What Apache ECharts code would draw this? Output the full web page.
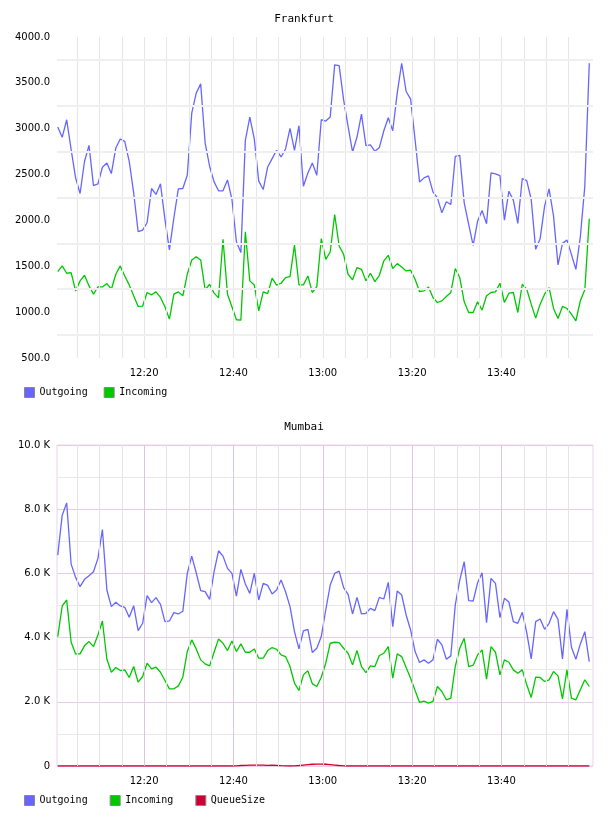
<!DOCTYPE html>
<html>
<head>
    <meta charset="utf-8" />
    <title>Frankfurt / Mumbai</title>
    <script src="https://cdn.jsdelivr.net/npm/echarts@6/dist/echarts.min.js"></script>
    <style>
        body { margin: 0; background: #fff; }
        #main { width: 608px; height: 816px; }
    </style>
</head>
<body>
<div id="main"></div>

<script type="text/javascript">
    // samples, one per minute
    var startTime = new Date(2024, 0, 1, 12, 0, 40).getTime();
    var stepMs = 60 * 1000;
    var axisMin = new Date(2024, 0, 1, 12, 0, 30).getTime();
    var axisMax = new Date(2024, 0, 1, 14, 0, 30).getTime();
    var baseTime = new Date(2024, 0, 1, 12, 0, 0).getTime();

    // minutes after 12:00
    var gridMinutes = [5, 10, 15, 20, 25, 30, 35, 40, 45, 50, 55, 60, 65, 70, 75, 80, 85, 90, 95, 100, 105, 110, 115];
    var labelMinutes = [20, 40, 60, 80, 100];

    var frankfurtGrid = [750, 1250, 1750, 2250, 2750, 3250, 3750];

    var frankfurtOut = [3018, 2906, 3098, 2772, 2464, 2294, 2645, 2819, 2380, 2399,
        2580, 2627, 2511, 2790, 2888, 2862, 2645, 2301, 1877, 1895,
        1975, 2348, 2283, 2399, 2011, 1678, 2029, 2344, 2348, 2493,
        3170, 3388, 3489, 2844, 2591, 2420, 2323, 2323, 2442, 2228,
        1768, 1649, 2873, 3127, 2888, 2428, 2337, 2583, 2674, 2765,
        2692, 2779, 3004, 2765, 3033, 2373, 2518, 2627, 2493, 3098,
        3083, 3127, 3696, 3688, 3315, 3025, 2746, 2909, 3159, 2815,
        2823, 2754, 2794, 2978, 3120, 2978, 3388, 3714, 3406, 3322,
        2880, 2420, 2464, 2486, 2312, 2246, 2083, 2203, 2174, 2699,
        2710, 2192, 1957, 1728, 1993, 2109, 1964, 2518, 2507, 2489,
        2004, 2319, 2221, 1968, 2457, 2435, 2228, 1685, 1801, 2156,
        2344, 2047, 1515, 1750, 1786, 1630, 1467, 1823, 2373, 3714];

    var frankfurtIn = [1442, 1504, 1424, 1431, 1232, 1341, 1402, 1286, 1196, 1275,
        1275, 1312, 1250, 1413, 1504, 1395, 1297, 1178, 1062, 1065,
        1214, 1189, 1221, 1160, 1058, 924, 1196, 1221, 1178, 1413,
        1569, 1605, 1569, 1243, 1304, 1207, 1156, 1794, 1196, 1058,
        917, 913, 1877, 1341, 1297, 1015, 1221, 1203, 1370, 1294,
        1315, 1377, 1388, 1732, 1297, 1297, 1395, 1214, 1279, 1801,
        1576, 1656, 2065, 1721, 1630, 1413, 1352, 1486, 1467, 1341,
        1424, 1333, 1402, 1558, 1620, 1475, 1529, 1493, 1449, 1457,
        1359, 1225, 1232, 1275, 1160, 1105, 1123, 1170, 1214, 1475,
        1377, 1113, 996, 996, 1113, 1022, 1178, 1214, 1221, 1315,
        1105, 1207, 1214, 996, 1304, 1250, 1087, 935, 1087, 1196,
        1268, 1040, 931, 1062, 1040, 978, 906, 1123, 1243, 2018];

    var mumbaiOut = [6570, 7814, 8197, 6290, 5876, 5586, 5814, 5928, 6052, 6467,
        7368, 5482, 4964, 5099, 4985, 4943, 4632, 4995, 4218, 4446,
        5306, 5088, 5244, 5036, 4498, 4518, 4777, 4736, 4819, 6000,
        6539, 6021, 5461, 5430, 5192, 6052, 6705, 6539, 6156, 6000,
        5295, 6125, 5669, 5378, 6000, 5171, 5689, 5627, 5358, 5482,
        5793, 5430, 4964, 4187, 3648, 4207, 4259, 3534, 3668, 4031,
        4860, 5637, 6000, 6073, 5555, 5347, 4736, 5254, 4736, 4757,
        4912, 4840, 5254, 5202, 5720, 4342, 5451, 5327, 4705, 4238,
        3565, 3223, 3306, 3202, 3306, 3948, 3772, 3327, 3430, 5016,
        5793, 6363, 5150, 5140, 5710, 6021, 4466, 5845, 5689, 4622,
        5223, 5109, 4498, 4446, 4788, 4156, 3337, 4498, 4580, 4259,
        4446, 4808, 4570, 3337, 4881, 3700, 3327, 3803, 4187, 3254];

    var mumbaiIn = [4031, 4985, 5171, 3855, 3492, 3492, 3751, 3876, 3720, 4083,
        4518, 3327, 2922, 3067, 2974, 2995, 2757, 3099, 2611, 2788,
        3202, 3026, 3078, 2922, 2663, 2404, 2404, 2497, 2767, 3565,
        3928, 3648, 3306, 3181, 3119, 3544, 3959, 3824, 3596, 3896,
        3565, 3803, 3544, 3544, 3648, 3358, 3358, 3596, 3689, 3637,
        3461, 3409, 3099, 2580, 2352, 2839, 2964, 2560, 2477, 2767,
        3202, 3824, 3855, 3845, 3668, 3513, 3150, 3596, 3099, 2912,
        3119, 3099, 3441, 3513, 3720, 2736, 3492, 3409, 3067, 2736,
        2352, 1979, 2021, 1959, 2010, 2477, 2321, 2062, 2114, 3099,
        3668, 3979, 3099, 3140, 3461, 3617, 2705, 3720, 3544, 2839,
        3306, 3233, 2995, 2891, 2995, 2529, 2135, 2767, 2757, 2632,
        2684, 2943, 2808, 2093, 2995, 2114, 2062, 2373, 2684, 2477];

    var mumbaiQueue = [0, 0, 0, 0, 0, 0, 0, 0, 0, 0,
        0, 0, 0, 0, 0, 0, 0, 0, 0, 0,
        0, 0, 0, 0, 0, 0, 0, 0, 0, 0,
        0, 0, 0, 0, 0, 0, 0, 0, 0, 0,
        5, 15, 20, 25, 25, 25, 25, 20, 25, 20,
        10, 5, 0, 5, 15, 30, 45, 55, 60, 60,
        55, 45, 30, 15, 5, 0, 0, 0, 0, 0,
        0, 0, 0, 0, 0, 0, 0, 0, 0, 0,
        0, 0, 0, 0, 0, 0, 0, 0, 0, 0,
        0, 0, 0, 0, 0, 0, 0, 0, 0, 0,
        0, 0, 0, 0, 0, 0, 0, 0, 0, 0,
        0, 0, 0, 0, 0, 0, 0, 0, 0, 0];

    var outColor = '#6666ff';
    var inColor = '#00c800';
    var queueColor = '#cc0033';

    function pairs(vals) {
        return vals.map(function (v, i) { return [startTime + i * stepMs, v]; });
    }
    function minuteTime(m) { return baseTime + m * 60 * 1000; }
    function hhmm(t) {
        var d = new Date(t);
        return d.getHours() + ':' + ('0' + d.getMinutes()).slice(-2);
    }

    var labelFont = { fontFamily: 'DejaVu Sans', fontSize: 10, color: '#000' };
    var monoFont = { fontFamily: 'DejaVu Sans Mono', fontSize: 10, color: '#000' };

    function lineSeries(name, vals, color, idx) {
        return {
            name: name, type: 'line', xAxisIndex: idx, yAxisIndex: idx,
            data: pairs(vals), showSymbol: false, symbol: 'none', z: 3,
            itemStyle: { color: color },
            lineStyle: { color: color, width: 1.3 }
        };
    }

    // grid lines drawn as mark lines (the 5 min marks are not counted from the axis min)
    var topLines = gridMinutes.map(function (m) {
        return { xAxis: minuteTime(m), lineStyle: { color: '#e6e6e6', width: 1, type: 'solid' } };
    }).concat(frankfurtGrid.map(function (v) {
        return { yAxis: v, lineStyle: { color: '#efefef', width: 2, type: 'solid' } };
    }));
    var bottomLines = gridMinutes.map(function (m) {
        var major = labelMinutes.indexOf(m) >= 0;
        return { xAxis: minuteTime(m), lineStyle: { color: major ? '#dcc6dc' : '#e6e2e6', width: 1, type: 'solid' } };
    });

    function gridSeries(idx, lines) {
        return {
            name: 'grid' + idx, type: 'line', xAxisIndex: idx, yAxisIndex: idx, data: [], z: 1,
            markLine: {
                silent: true, symbol: ['none', 'none'], animation: false,
                label: { show: false }, data: lines
            }
        };
    }

    function xAxisFor(idx) {
        return {
            gridIndex: idx, type: 'value', min: axisMin, max: axisMax,
            axisLine: { show: false }, axisTick: { show: false }, splitLine: { show: false },
            axisLabel: {
                customValues: labelMinutes.map(minuteTime), margin: 10,
                fontFamily: labelFont.fontFamily, fontSize: labelFont.fontSize, color: labelFont.color,
                formatter: function (v) { return hhmm(v); }
            }
        };
    }

    var myChart = echarts.init(document.getElementById('main'));
    var option = {
        animation: false,
        title: [
            { text: 'Frankfurt', left: 'center', top: 14, padding: 0,
              textStyle: { fontFamily: 'DejaVu Sans Mono', fontSize: 11, fontWeight: 'normal', color: '#000' } },
            { text: 'Mumbai', left: 'center', top: 422, padding: 0,
              textStyle: { fontFamily: 'DejaVu Sans Mono', fontSize: 11, fontWeight: 'normal', color: '#000' } }
        ],
        legend: [
            { left: 24, top: 387, padding: 0, icon: 'rect', itemWidth: 10, itemHeight: 10, itemGap: 16,
              selectedMode: false, data: ['Outgoing', 'Incoming'], textStyle: monoFont,
              itemStyle: { borderColor: '#888', borderWidth: 1 } },
            { left: 24, top: 795, padding: 0, icon: 'rect', itemWidth: 10, itemHeight: 10, itemGap: 22,
              selectedMode: false, data: ['Outgoing', 'Incoming', 'QueueSize'], textStyle: monoFont,
              itemStyle: { borderColor: '#888', borderWidth: 1 } }
        ],
        grid: [
            { left: 57, right: 15, top: 37, height: 321 },
            { left: 57, right: 15, top: 445, height: 321, show: true,
              borderColor: '#e8d4e8', borderWidth: 1, backgroundColor: 'transparent' }
        ],
        xAxis: [xAxisFor(0), xAxisFor(1)],
        yAxis: [
            { gridIndex: 0, type: 'value', min: 500, max: 4000, interval: 500,
              axisLine: { show: false }, axisTick: { show: false }, splitLine: { show: false },
              axisLabel: { margin: 7, fontFamily: labelFont.fontFamily, fontSize: 10, color: '#000',
                  formatter: function (v) { return v.toFixed(1); } } },
            { gridIndex: 1, type: 'value', min: 0, max: 10000, interval: 2000,
              axisLine: { show: false }, axisTick: { show: false },
              splitLine: { show: true, lineStyle: { color: '#e6cce6', width: 1 } },
              minorTick: { show: false, splitNumber: 2 },
              minorSplitLine: { show: true, lineStyle: { color: '#e8e8e8', width: 1 } },
              axisLabel: { margin: 7, fontFamily: labelFont.fontFamily, fontSize: 10, color: '#000',
                  formatter: function (v) { return v === 0 ? '0' : (v / 1000).toFixed(1) + ' K'; } } }
        ],
        series: [
            gridSeries(0, topLines),
            lineSeries('Outgoing', frankfurtOut, outColor, 0),
            lineSeries('Incoming', frankfurtIn, inColor, 0),
            gridSeries(1, bottomLines),
            lineSeries('Outgoing', mumbaiOut, outColor, 1),
            lineSeries('Incoming', mumbaiIn, inColor, 1),
            lineSeries('QueueSize', mumbaiQueue, queueColor, 1)
        ]
    };

    myChart.setOption(option);
</script>
</body>
</html>
